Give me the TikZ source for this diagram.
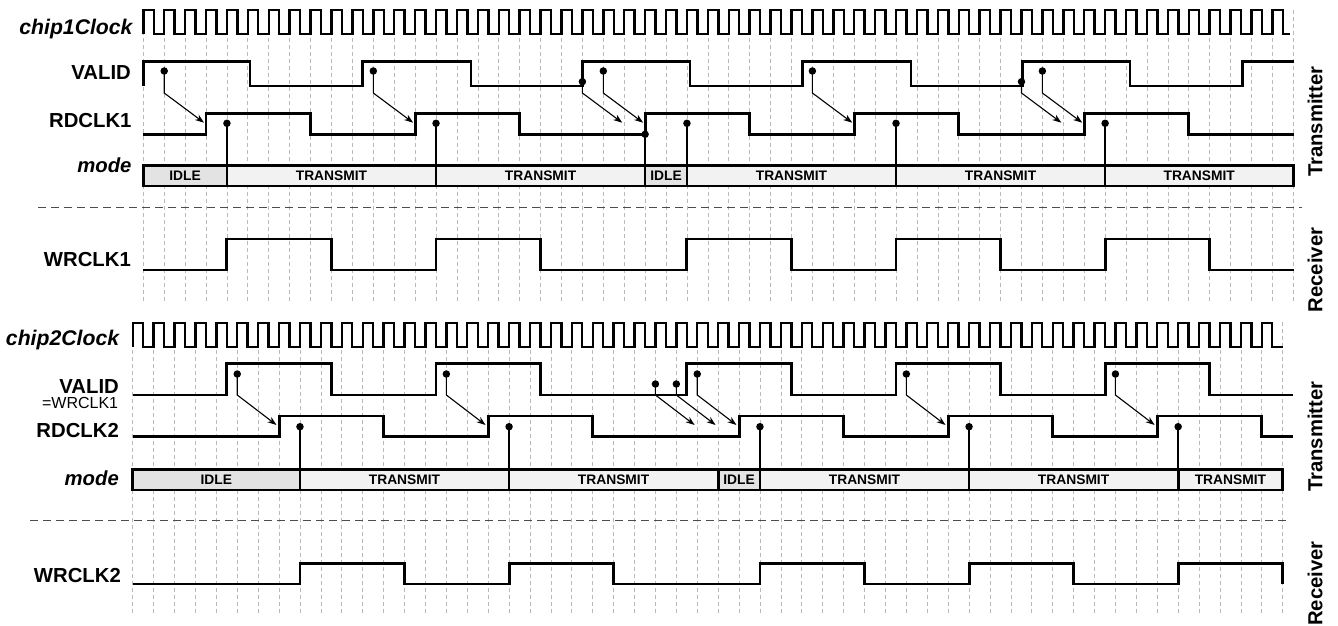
\documentclass[tikz,border=0pt]{standalone}
\usepackage{fontspec}
\setmainfont{Liberation Sans}
\usetikzlibrary{arrows.meta}
\pgfmathdeclarefunction{gt}{1}{\pgfmathparse{143.3+20.909*#1}}
\pgfmathdeclarefunction{gb}{1}{\pgfmathparse{132.7+20.909*#1}}
\begin{document}
\begin{tikzpicture}[x=1pt,y=-1pt,
  grid/.style={gray!55,line width=0.7pt,dash pattern=on 4pt off 3pt},
  sig/.style={line width=2.9pt,line join=miter},
  clk/.style={line width=2.4pt,line join=miter},
  sep/.style={black!70,line width=1.1pt,dash pattern=on 8pt off 5pt},
  lab/.style={font=\fontsize{20.3}{24}\selectfont\bfseries,anchor=base east,inner sep=0pt},
  ilab/.style={lab,font=\fontsize{20.3}{24}\selectfont\bfseries\itshape},
  clab/.style={lab,font=\fontsize{21.2}{25}\selectfont\bfseries\itshape},
  slab/.style={font=\fontsize{16}{19}\selectfont,anchor=base east,inner sep=0pt},
  side/.style={font=\fontsize{20.3}{24}\selectfont\bfseries,rotate=90,inner sep=0pt},
  modebox/.style={line width=2.7pt},
  mtext/.style={font=\fontsize{13.8}{16}\selectfont\bfseries,inner sep=0pt},
  dot/.style={circle,fill=black,inner sep=0pt,minimum size=7.5pt},
  arr/.style={line width=1.1pt,-{Stealth[length=9pt,width=6.5pt]}},
  stem/.style={line width=1.5pt},
]
\useasboundingbox (0,0) rectangle (1338,626);
\fill[white] (0,0) rectangle (1338,626);

% grids
\foreach \k in {0,...,55}{
  \draw[grid] ({gt(\k)},10) -- ({gt(\k)},303);
  \draw[grid] ({gb(\k)},322) -- ({gb(\k)},615);
}

% separators
\draw[sep] (38,207.3) -- (1302,207.3);
\draw[sep] (30,520.7) -- (1290,520.7);

% ---------- chip 1 ----------
\node[clab] (lc1) at (132.7,34.3) {chip1Clock};
\node[lab] (lv1) at (131,80) {VALID};
\node[lab] (lr1) at (131.7,127.7) {RDCLK1};
\node[ilab] (lm1) at (131.7,172.7) {mode};
\node[lab] (lw1) at (131,266) {WRCLK1};

\draw[clk] (143.3,34.3) \foreach \k in {0,...,54}{ -- ({gt(\k)},34.3) -- ({gt(\k)},10) -- ({gt(\k)+10.45},10) -- ({gt(\k)+10.45},34.3)} -- ({gt(55)-3},34.3);

\draw[sig] (143.3,86) -- (143.3,61.3) \foreach \f/\r in {250/362.7,471/582.7,690/802.7,911/1022.7,1130/1242.7}{ -- (\f,61.3) -- (\f,86) -- (\r,86) -- (\r,61.3)} -- (1294,61.3);

\draw[sig] (143.3,134.3) \foreach \a/\b in {3/8,13/18,24/29,34/39,45/50}{ -- ({gt(\a)},134.3) -- ({gt(\a)},113.3) -- ({gt(\b)},113.3) -- ({gt(\b)},134.3)} -- (1294,134.3);

\draw[sig] (143.3,270) \foreach \a/\b in {4/9,14/19,26/31,36/41,46/51}{ -- ({gt(\a)},270) -- ({gt(\a)},239) -- ({gt(\b)},239) -- ({gt(\b)},270)} -- (1294,270);

\foreach \k/\yy [count=\i] in {1/71,11/71,21/81.7,22/71,32/71,42/81.7,43/71}{
  \node[dot] (va\i) at ({gt(\k)},\yy) {};
  \draw[arr] (va\i.center) -- ({gt(\k)},93) -- ({gt(\k+2)-2},122.7);
}
\foreach \k/\yy [count=\i] in {4/123.3,14/123.3,24/134.3,26/123.3,36/123.3,46/123.3}{
  \node[dot] (ra\i) at ({gt(\k)},\yy) {};
  \draw[stem] (ra\i.center) -- ({gt(\k)},166);
}
\foreach \a/\b/\t/\fc [count=\i] in {0/4/IDLE/gray!22,4/14/TRANSMIT/gray!10,14/24/TRANSMIT/gray!10,24/26/IDLE/gray!22,26/36/TRANSMIT/gray!10,36/46/TRANSMIT/gray!10,46/55/TRANSMIT/gray!10}{
  \draw[modebox,fill=\fc] ({gt(\a)},165.7) rectangle ({gt(\b)},186);
  \node[mtext] (ma\i) at ({(gt(\a)+gt(\b))/2},175.8) {\t};
}

\node[side] (tx1) at (1315,121.7) {Transmitter};
\node[side] (rx1) at (1315,270) {Receiver};

% ---------- chip 2 ----------
\node[clab] (lc2) at (119.3,345) {chip2Clock};
\node[lab] (lv2) at (119,393.3) {VALID};
\node[slab] (lv2b) at (118.3,408.3) {=WRCLK1};
\node[lab] (lr2) at (119,437.7) {RDCLK2};
\node[ilab] (lm2) at (119,485) {mode};
\node[lab] (lw2) at (121,582) {WRCLK2};

\draw[clk] (132.7,346.7) \foreach \k in {0,...,54}{ -- ({gb(\k)},346.7) -- ({gb(\k)},322.7) -- ({gb(\k)+10.45},322.7) -- ({gb(\k)+10.45},346.7)} -- ({gb(55)},346.7);

\draw[sig] (132.7,395) \foreach \a/\b in {4/9,14/19,26/31,36/41,46/51}{ -- ({gt(\a)},395) -- ({gt(\a)},363.3) -- ({gt(\b)},363.3) -- ({gt(\b)},395)} -- (1293.3,395);

\draw[sig] (132.7,436.7) \foreach \a/\b in {7/12,17/22,29/34,39/44,49/54}{ -- ({gb(\a)},436.7) -- ({gb(\a)},416) -- ({gb(\b)},416) -- ({gb(\b)},436.7)} -- (1293.3,436.7);

\draw[sig] (132.7,584) \foreach \a/\b in {8/13,18/23,30/35,40/45,50/55}{ -- ({gb(\a)},584) -- ({gb(\a)},563.3) -- ({gb(\b)},563.3) -- ({gb(\b)},584)};

\foreach \k/\yy [count=\i] in {5/374,15/374,25/384,26/384,27/374,37/374,47/374}{
  \node[dot] (vb\i) at ({gb(\k)},\yy) {};
  \draw[arr] (vb\i.center) -- ({gb(\k)},395) -- ({gb(\k+2)-2.6},425);
}
\foreach \k [count=\i] in {8,18,30,40,50}{
  \node[dot] (rb\i) at ({gb(\k)},426.7) {};
  \draw[stem] (rb\i.center) -- ({gb(\k)},470);
}
\foreach \a/\b/\t/\fc [count=\i] in {0/8/IDLE/gray!22,8/18/TRANSMIT/gray!10,18/28/TRANSMIT/gray!10,28/30/IDLE/gray!22,30/40/TRANSMIT/gray!10,40/50/TRANSMIT/gray!10,50/55/TRANSMIT/gray!10}{
  \draw[modebox,fill=\fc] ({gb(\a)},469.3) rectangle ({gb(\b)},490);
  \node[mtext] (mb\i) at ({(gb(\a)+gb(\b))/2},479.7) {\t};
}

\node[side] (tx2) at (1315,436.7) {Transmitter};
\node[side] (rx2) at (1315,583.5) {Receiver};
\end{tikzpicture}
\end{document}
